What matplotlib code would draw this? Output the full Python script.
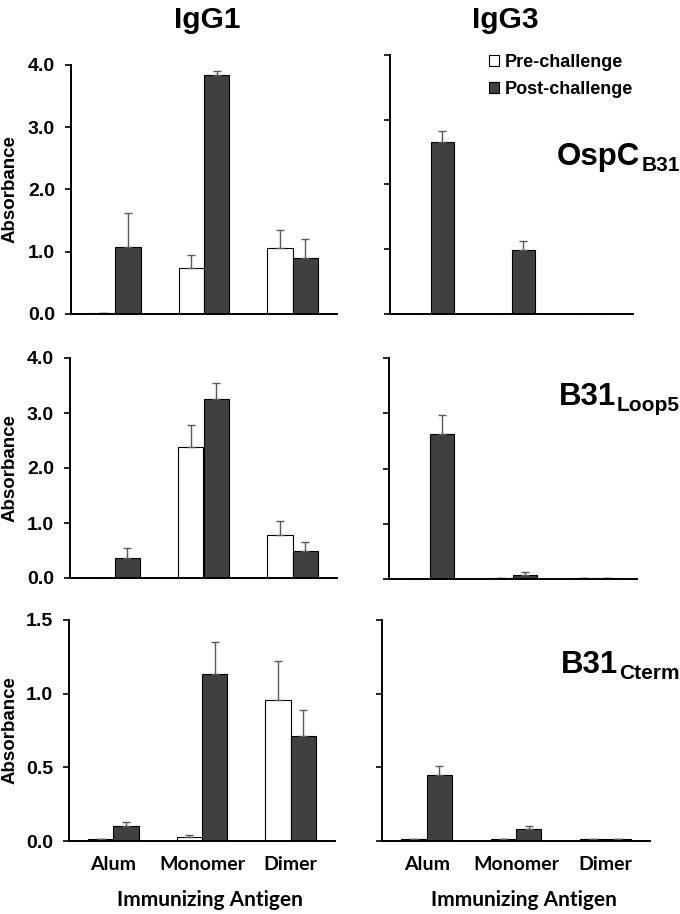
import matplotlib
matplotlib.use("Agg")
import matplotlib.pyplot as plt
import numpy as np
from matplotlib.patches import Patch

categories = ["Alum", "Monomer", "Dimer"]

# IgG1 / IgG3 panels: pre and post values with upward SD
igg1_ospc_pre = [0.01, 0.74, 1.06]
igg1_ospc_pre_err = [0.0, 0.20, 0.29]
igg1_ospc_post = [1.08, 3.84, 0.90]
igg1_ospc_post_err = [0.54, 0.06, 0.31]

igg3_ospc_pre = [0.005, 0.005, 0.005]
igg3_ospc_pre_err = [0.0, 0.0, 0.0]
igg3_ospc_post = [2.65, 0.99, 0.0]
igg3_ospc_post_err = [0.18, 0.13, 0.0]

igg1_loop5_pre = [0.005, 2.38, 0.78]
igg1_loop5_pre_err = [0.0, 0.41, 0.25]
igg1_loop5_post = [0.36, 3.25, 0.50]
igg1_loop5_post_err = [0.19, 0.30, 0.15]

igg3_loop5_pre = [0.005, 0.01, 0.01]
igg3_loop5_pre_err = [0.0, 0.0, 0.0]
igg3_loop5_post = [2.63, 0.08, 0.01]
igg3_loop5_post_err = [0.34, 0.05, 0.0]

igg1_cterm_pre = [0.014, 0.03, 0.96]
igg1_cterm_pre_err = [0.0, 0.01, 0.26]
igg1_cterm_post = [0.104, 1.135, 0.71]
igg1_cterm_post_err = [0.023, 0.215, 0.18]

igg3_cterm_pre = [0.016, 0.013, 0.015]
igg3_cterm_pre_err = [0.0, 0.0, 0.0]
igg3_cterm_post = [0.449, 0.08, 0.014]
igg3_cterm_post_err = [0.06, 0.02, 0.0]

ymax_top = 4.0
yticks_top = [0.0, 1.0, 2.0, 3.0, 4.0]
ymax_bot = 1.5
yticks_bot = [0.0, 0.5, 1.0, 1.5]

column_titles = ["IgG1", "IgG3"]
row_main = ["OspC", "B31", "B31"]
row_sub = ["B31", "Loop5", "Cterm"]
legend_labels = ["Pre-challenge", "Post-challenge"]
xlabel = "Immunizing Antigen"
ylabel = "Absorbance"

W, H = 680, 914
fig = plt.figure(figsize=(W / 100, H / 100), dpi=100)
renderer = fig.canvas.get_renderer()

def rect(l, r, t, b):
    return [l / W, 1 - b / H, (r - l) / W, (b - t) / H]

positions = [
    [rect(71, 337, 65, 314), rect(390, 633, 55, 314)],
    [rect(70, 337, 358, 578), rect(389, 637, 358, 579)],
    [rect(69, 335, 620, 841), rect(382, 650, 620, 841)],
]
pix_left = [71, 70, 69]

data = [
    [(igg1_ospc_pre, igg1_ospc_pre_err, igg1_ospc_post, igg1_ospc_post_err),
     (igg3_ospc_pre, igg3_ospc_pre_err, igg3_ospc_post, igg3_ospc_post_err)],
    [(igg1_loop5_pre, igg1_loop5_pre_err, igg1_loop5_post, igg1_loop5_post_err),
     (igg3_loop5_pre, igg3_loop5_pre_err, igg3_loop5_post, igg3_loop5_post_err)],
    [(igg1_cterm_pre, igg1_cterm_pre_err, igg1_cterm_post, igg1_cterm_post_err),
     (igg3_cterm_pre, igg3_cterm_pre_err, igg3_cterm_post, igg3_cterm_post_err)],
]

ARIAL = "Liberation Sans"
CAL = "Lato"
dark = "#404040"
errc = "#5a5a5a"
x = np.arange(len(categories))
bw = 0.285

def sub_label(x_right, y_base, main, sub):
    t1 = fig.text(0, 0, main, fontfamily=ARIAL, fontweight="bold", fontsize=22.5,
                  ha="left", va="baseline")
    t2 = fig.text(0, 0, sub, fontfamily=ARIAL, fontweight="bold", fontsize=15,
                  ha="left", va="baseline")
    w1 = t1.get_window_extent(renderer).width
    w2 = t2.get_window_extent(renderer).width
    x0 = x_right - w1 - w2 - 1
    t1.set_position((x0 / W, 1 - y_base / H))
    t2.set_position(((x0 + w1 + 1) / W, 1 - (y_base + 6) / H))

for r in range(3):
    for c in range(2):
        ax = fig.add_axes(positions[r][c])
        pre, pre_e, post, post_e = data[r][c]
        ekw = dict(ecolor=errc, elinewidth=1.0, capsize=3, capthick=1.0)
        ax.bar(x - bw / 2, pre, bw, color="white", edgecolor="black", linewidth=0.8,
               yerr=[np.zeros(3), pre_e], error_kw=ekw, zorder=2)
        ax.bar(x + bw / 2, post, bw, color=dark, edgecolor="black", linewidth=0.8,
               yerr=[np.zeros(3), post_e], error_kw=ekw, zorder=2)
        ax.set_xlim(-0.5, 2.5)
        if r < 2:
            ax.set_ylim(0, ymax_top)
            ax.set_yticks(yticks_top)
        else:
            ax.set_ylim(0, ymax_bot)
            ax.set_yticks(yticks_bot)
        for s in ["top", "right"]:
            ax.spines[s].set_visible(False)
        for s in ["left", "bottom"]:
            ax.spines[s].set_linewidth(1.4)
            ax.spines[s].set_color("black")
        ax.tick_params(axis="y", direction="out", length=4.5, width=1.2, pad=7)
        ax.tick_params(axis="x", length=0)
        pw = positions[r][c][2] * W
        ph = positions[r][c][3] * H
        if c == 0:
            ax.set_yticklabels([f"{v:.1f}" for v in ax.get_yticks()],
                               fontfamily=ARIAL, fontweight="bold", fontsize=14)
            ax.set_ylabel(ylabel, fontfamily=ARIAL, fontweight="bold", fontsize=13.5)
            ax.yaxis.set_label_coords((19 - pix_left[r]) / pw, 0.5)
        else:
            ax.set_yticklabels([])
        if r == 2:
            ax.set_xticks(x)
            ax.set_xticklabels(categories, fontfamily=CAL, fontweight="bold", fontsize=14)
            ax.tick_params(axis="x", pad=11)
            ax.set_xlabel(xlabel, fontfamily=CAL, fontweight="bold", fontsize=15)
            ax.xaxis.set_label_coords(0.5 + 8 / pw, -59 / ph)
            ax.xaxis.label.set_va("center")
        else:
            ax.set_xticks([])
        if c == 1:
            ybase = [165, 405, 673][r]
            sub_label(680, ybase, row_main[r], row_sub[r])
        if r == 0 and c == 1:
            handles = [Patch(facecolor="white", edgecolor="black", linewidth=0.8),
                       Patch(facecolor=dark, edgecolor="black", linewidth=0.8)]
            ax.legend(handles, legend_labels, loc="upper left",
                      bbox_to_anchor=((489 - 390) / 243, 1 + 1 / 259),
                      frameon=False, handlelength=0.55, handleheight=0.55,
                      handletextpad=0.3, labelspacing=0.55, borderpad=0, borderaxespad=0,
                      prop=dict(family=ARIAL, weight="bold", size=13))

fig.text(207 / W, 1 - 20 / H, column_titles[0], ha="center", va="center",
         fontfamily=ARIAL, fontweight="bold", fontsize=21.5)
fig.text(505 / W, 1 - 20 / H, column_titles[1], ha="center", va="center",
         fontfamily=ARIAL, fontweight="bold", fontsize=21.5)

fig.savefig("out.png", dpi=100)
